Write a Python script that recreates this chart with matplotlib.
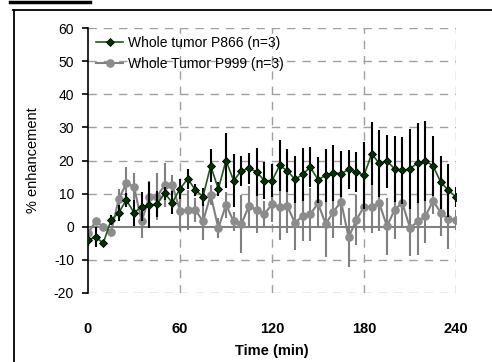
import matplotlib
matplotlib.use("Agg")
import matplotlib.pyplot as plt
from matplotlib.lines import Line2D
import numpy as np

plt.rcParams['font.family'] = ['Liberation Sans', 'DejaVu Sans']
plt.rcParams['axes.unicode_minus'] = False

# time points (min)
time_min = list(range(0, 245, 5))

# Whole tumor P866 (n=3)
p866 = [-3.9, -3.2, -4.9, 2.0, 4.2, 8.1, 4.2, 6.1, 6.6, 6.8, 10.1, 7.3,
        11.4, 14.5, 11.1, 9.1, 18.4, 11.4, 20.0, 13.9, 16.9, 17.6, 16.6, 13.9,
        13.9, 18.5, 16.9, 14.3, 15.8, 18.0, 14.2, 15.5, 16.3, 16.0, 17.3, 16.5,
        15.5, 22.0, 19.1, 19.8, 17.5, 17.0, 17.5, 19.3, 19.9, 18.4, 13.5, 11.0, 9.0]
p866_err = [2, 3, 1, 1.5, 2.5, 2, 4, 4.3, 7, 4, 2, 3.5,
            3, 3, 1.7, 2.7, 5, 2, 8.3, 8, 4.6, 4.7, 7.3, 5.5,
            5, 7.6, 6.5, 7, 8, 6, 7, 8, 8.5, 7, 6, 6,
            10, 9.5, 10, 8, 10, 10, 12, 12, 12, 9, 8, 8, 3]

# Whole Tumor P999 (n=3)
p999 = [-1.9, 1.6, 0.0, -1.7, 8.3, 13.1, 12.1, 1.6, 9.1, 9.1, 12.6, 12.6,
        4.8, 5.1, 5.1, 1.6, 9.6, -0.4, 6.6, 1.6, 0.8, 6.3, 5.1, 3.8,
        6.8, 6.0, 6.2, 1.1, 3.3, 3.8, 7.1, 0.8, 4.5, 7.6, -3.2, 2.1,
        6.0, 6.0, 7.1, 0.1, 5.2, 7.2, -0.4, 1.6, 3.1, 7.8, 4.3, 2.2, 2.0]
p999_err = [1, 1, 1, 1, 3, 5, 4, 5, 4.7, 7, 6.7, 3,
            6, 6, 3.7, 5.5, 3, 3, 4, 3, 8.7, 6, 7, 4,
            5.5, 10, 8, 8, 7.5, 8, 7, 10, 8, 7, 9, 7.5,
            7, 8, 8.5, 8.5, 9, 7.5, 8.5, 10, 8, 4, 7, 9, 3]

xticks = [0, 60, 120, 180, 240]
yticks = [-20, -10, 0, 10, 20, 30, 40, 50, 60]

fig = plt.figure(figsize=(4.92, 3.62), dpi=100)
ax = fig.add_axes([88 / 492, 69 / 362, 368 / 492, 265 / 362])

grid_c = '#a0a0a0'
for yv in yticks:
    if yv != 0:
        ax.axhline(yv, color=grid_c, lw=1, ls=(0, (6, 5)), zorder=0)
for xv in xticks[1:]:
    ax.axvline(xv, color=grid_c, lw=1, ls=(0, (6, 5)), zorder=0)
ax.axhline(0, color='#808080', lw=1.5, zorder=1)

gray_style = dict(color='#808080', lw=1.5, marker='o', ms=5.2, mfc='#8c8c8c', mec='#8c8c8c')
green_style = dict(color='#1e5a1e', lw=1.2, marker='D', ms=4.5, mfc='#003300', mec='black', mew=0.6)

ax.errorbar(time_min, p999, yerr=p999_err, ecolor='#808080', elinewidth=1.5,
            capsize=0, zorder=2, **gray_style)
ax.errorbar(time_min, p866, yerr=p866_err, ecolor='black', elinewidth=1.5,
            capsize=0, zorder=3, **green_style)

ax.set_xlim(0, 240)
ax.set_ylim(-20, 60)
ax.set_xticks(xticks)
ax.set_yticks(yticks)
for s in ['top', 'right', 'bottom']:
    ax.spines[s].set_visible(False)
ax.spines['left'].set_linewidth(1.2)
ax.tick_params(axis='y', direction='out', length=4, width=1.2, pad=6, labelsize=10)
ax.tick_params(axis='x', length=0, pad=21, labelsize=10.5)
for lbl in ax.get_xticklabels():
    lbl.set_fontweight('bold')

ax.set_xlabel('Time (min)', fontsize=10.5, fontweight='bold', labelpad=6)
ax.set_ylabel('% enhancement', fontsize=10.5, labelpad=10)

handles = [Line2D([], [], **green_style), Line2D([], [], **gray_style)]
labels = ['Whole tumor P866 (n=3)', 'Whole Tumor P999 (n=3)']
ax.legend(handles, labels, loc='upper left', bbox_to_anchor=(0.0, 1.0),
          frameon=False, fontsize=10, handlelength=2.0, handletextpad=0.35,
          labelspacing=0.5, borderaxespad=0.25, borderpad=0.3)

# outer frame lines
fig.add_artist(Line2D([13 / 492, 1.0], [1 - 10 / 362, 1 - 10 / 362], color='black', lw=1.3))
fig.add_artist(Line2D([14 / 492, 14 / 492], [0, 1 - 10 / 362], color='black', lw=1.3))
fig.add_artist(Line2D([10 / 492, 90 / 492], [1 - 1.5 / 362, 1 - 1.5 / 362], color='black', lw=2.5))

fig.savefig('out.png', dpi=100)
